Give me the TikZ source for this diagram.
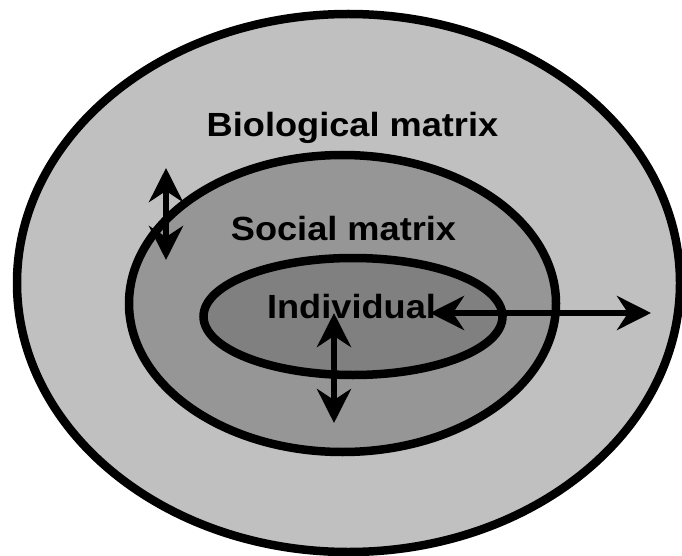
\documentclass[tikz,border=0pt]{standalone}
\usepackage{fontspec}
\setmainfont{Liberation Sans}
\usetikzlibrary{arrows.meta}
\definecolor{outerfill}{RGB}{192,192,192}
\definecolor{midfill}{RGB}{150,150,150}
\definecolor{innerfill}{RGB}{128,128,128}
\tikzset{
  ring/.style={draw=black, line width=8.5pt},
  lbl/.style={font=\fontsize{33.5}{33.5}\selectfont\bfseries, inner sep=0pt, xscale=1.08, transform shape},
  dblarrow/.style={line width=6pt, {Stealth[length=34pt,width=34pt,inset=11pt]}-{Stealth[length=34pt,width=34pt,inset=11pt]}}
}
\begin{document}
\begin{tikzpicture}[x=1pt,y=-1pt]
\useasboundingbox (0,0) rectangle (682,556);
\fill[white] (0,0) rectangle (682,556);
\draw[ring, fill=outerfill] (348.5,283) ellipse [x radius=331.5, y radius=269];
\draw[ring, fill=midfill] (342.5,303.5) ellipse [x radius=213.5, y radius=148.5];
\draw[ring, fill=innerfill] (353,316.5) ellipse [x radius=149.5, y radius=58.5];
\node[lbl, anchor=base] (bio) at (352.5,137) {Biological matrix};
\node[lbl, anchor=base] (soc) at (343.5,240) {Social matrix};
\node[lbl, anchor=base] (ind) at (351.5,318) {Individual};
\coordinate (a1t) at (166,168);
\coordinate (a1b) at (166,260);
\coordinate (a2t) at (334,313);
\coordinate (a2b) at (334,423);
\coordinate (a3l) at (430,313);
\coordinate (a3r) at (651,313);
\draw[dblarrow] (a1t) -- (a1b);
\draw[dblarrow] (a2t) -- (a2b);
\draw[dblarrow] (a3l) -- (a3r);
\end{tikzpicture}
\end{document}
